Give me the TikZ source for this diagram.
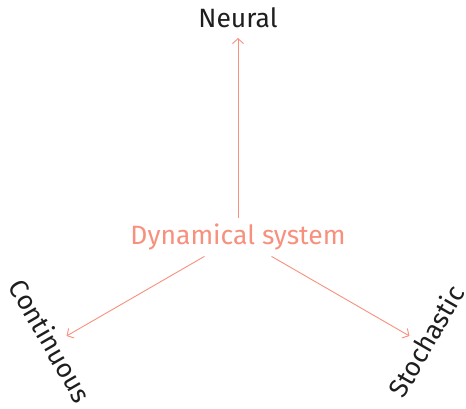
\documentclass[tikz,border=0pt]{standalone}
\usepackage{fontspec}
\setmainfont{Fira Sans}
\usetikzlibrary{arrows.meta}
\definecolor{salmonline}{HTML}{F7907C}
\definecolor{labelgray}{HTML}{1E1E1E}

\begin{document}
\begin{tikzpicture}[x=1pt,y=1pt,
  axis/.style={draw=salmonline, line width=0.9pt, arrows={-Straight Barb[length=5pt,width=11pt]}},
  kind/.style={text=labelgray, font=\fontsize{26.5}{32}\selectfont}]
\useasboundingbox (-238,-172) rectangle (228,237);
\node [text=salmonline, font=\fontsize{26.5}{32}\selectfont, inner sep=6pt] (dyn) at (0,0) {Dynamical system};
\coordinate (up) at (90:199);
\coordinate (left) at (210:198);
\coordinate (right) at (330:198);
\node [kind] (neural) at (90:219) {Neural};
\node [kind, rotate=-60] (cont) at (209:214) {Continuous};
\node [kind, rotate=60] (stoch) at (331:215) {Stochastic};
\draw [axis] (dyn) -- (up);
\draw [axis] (dyn) -- (left);
\draw [axis] (dyn) -- (right);
\end{tikzpicture}
\end{document}
